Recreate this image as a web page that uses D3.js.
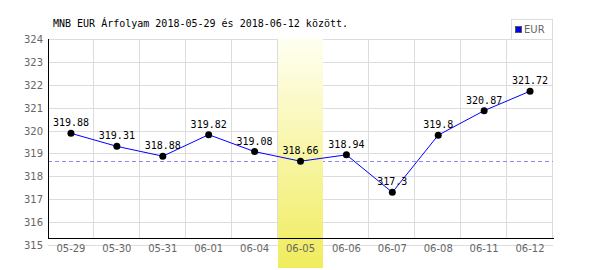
<!DOCTYPE html>
<html>
<head>
<meta charset="utf-8">
<script src="https://cdn.jsdelivr.net/npm/d3@7"></script>
<style>
  body { margin: 0; background: #fff; }
  svg { display: block; }
</style>
</head>
<body>
<svg width="600" height="270"></svg>
<script>
// arfolyam adatok
var days = ["05-29", "05-30", "05-31", "06-01", "06-04", "06-05", "06-06", "06-07", "06-08", "06-11", "06-12"];
var rates = [319.88, 319.31, 318.88, 319.82, 319.08, 318.66, 318.94, 317.3, 319.8, 320.87, 321.72];
var labels = ["319.88", "319.31", "318.88", "319.82", "319.08", "318.66", "318.94", "317.3", "319.8", "320.87", "321.72"];
var yTicks = [315, 316, 317, 318, 319, 320, 321, 322, 323, 324];
var highlightDay = "06-05";
var refRate = 318.66;

var svg = d3.select("svg");

// note: "top" is reserved on window, so plot edges get their own names
var plotLeft = 48, plotRight = 553, plotTop = 39, plotBottom = 245, axisY = 238;

var x = d3.scaleBand().domain(days).range([plotLeft, plotRight]);
var y = d3.scaleLinear().domain([315, 324]).range([plotBottom, plotTop]);

var data = days.map(function(d, i) {
  return { key: d, value: rates[i], label: labels[i] };
});

// grid
var grid = svg.append("g").attr("id", "grid");
grid.selectAll("line.h")
  .data(yTicks)
  .enter().append("line")
  .attr("class", "h")
  .attr("x1", plotLeft).attr("x2", plotRight)
  .attr("y1", function(d) { return Math.round(y(d)) + 0.5; })
  .attr("y2", function(d) { return Math.round(y(d)) + 0.5; })
  .attr("stroke", "#dcdcdc");

grid.selectAll("line.v")
  .data(days)
  .enter().append("line")
  .attr("class", "v")
  .attr("x1", function(d) { return Math.round(x(d) + x.bandwidth()) - 0.5; })
  .attr("x2", function(d) { return Math.round(x(d) + x.bandwidth()) - 0.5; })
  .attr("y1", plotTop).attr("y2", axisY)
  .attr("stroke", "#dcdcdc");

// dashed reference
svg.append("line")
  .attr("x1", plotLeft).attr("x2", plotRight)
  .attr("y1", Math.round(y(refRate)) + 0.5)
  .attr("y2", Math.round(y(refRate)) + 0.5)
  .attr("stroke", "#8c8cf0")
  .attr("stroke-dasharray", "4,3");

// highlighted day
var grad = svg.append("defs").append("linearGradient")
  .attr("id", "hl").attr("x1", 0).attr("y1", 0).attr("x2", 0).attr("y2", 1);
grad.append("stop").attr("offset", "0%").attr("stop-color", "#fffff2");
grad.append("stop").attr("offset", "100%").attr("stop-color", "#f0ec5c");

svg.append("rect")
  .attr("x", Math.round(x(highlightDay)))
  .attr("y", plotTop - 1)
  .attr("width", Math.round(x.bandwidth()) - 1)
  .attr("height", 268 - plotTop + 1)
  .attr("fill", "url(#hl)");

// axes
svg.append("line")
  .attr("x1", plotLeft + 0.5).attr("x2", plotLeft + 0.5)
  .attr("y1", plotTop).attr("y2", axisY + 1)
  .attr("stroke", "#000");
svg.append("line")
  .attr("x1", plotLeft).attr("x2", plotRight + 1)
  .attr("y1", axisY + 0.5).attr("y2", axisY + 0.5)
  .attr("stroke", "#000");

svg.append("g").selectAll("text")
  .data(yTicks)
  .enter().append("text")
  .attr("x", 43)
  .attr("y", function(d) { return y(d) + 4; })
  .attr("text-anchor", "end")
  .style("font-family", "DejaVu Sans")
  .style("font-size", "10px")
  .attr("fill", "#666")
  .text(function(d) { return d; });

svg.append("g").selectAll("text")
  .data(days)
  .enter().append("text")
  .attr("x", function(d) { return x(d) + x.bandwidth() / 2; })
  .attr("y", 252)
  .attr("text-anchor", "middle")
  .style("font-family", "DejaVu Sans")
  .style("font-size", "10px")
  .attr("fill", "#666")
  .text(function(d) { return d; });

// data line
var line = d3.line()
  .x(function(d) { return x(d.key) + x.bandwidth() / 2; })
  .y(function(d) { return y(d.value); });

svg.append("path")
  .datum(data)
  .attr("d", line)
  .attr("fill", "none")
  .attr("stroke", "#0000ff")
  .attr("stroke-width", 1);

svg.append("g").selectAll("circle")
  .data(data)
  .enter().append("circle")
  .attr("cx", function(d) { return x(d.key) + x.bandwidth() / 2; })
  .attr("cy", function(d) { return y(d.value); })
  .attr("r", 3.5)
  .attr("fill", "#000");

svg.append("g").selectAll("text")
  .data(data)
  .enter().append("text")
  .attr("x", function(d) { return x(d.key) + x.bandwidth() / 2; })
  .attr("y", function(d) { return y(d.value) - 7; })
  .attr("text-anchor", "middle")
  .style("font-family", "DejaVu Sans Mono")
  .style("font-size", "10px")
  .attr("fill", "#000")
  .text(function(d) { return d.label; });

// title
svg.append("text")
  .attr("x", 53)
  .attr("y", 27)
  .style("font-family", "DejaVu Sans Mono")
  .style("font-size", "10px")
  .attr("fill", "#000")
  .text("MNB EUR Árfolyam 2018-05-29 és 2018-06-12 között.");

// legend
var legend = svg.append("g");
legend.append("rect")
  .attr("x", 511.5).attr("y", 19.5)
  .attr("width", 41).attr("height", 20)
  .attr("fill", "#fff")
  .attr("stroke", "#dcdcdc");
legend.append("rect")
  .attr("x", 515.5).attr("y", 26.5)
  .attr("width", 6).attr("height", 6)
  .attr("fill", "#0000ff")
  .attr("stroke", "#555");
legend.append("text")
  .attr("x", 524)
  .attr("y", 33)
  .style("font-family", "DejaVu Sans")
  .style("font-size", "10px")
  .attr("fill", "#666")
  .text("EUR");
</script>
</body>
</html>
